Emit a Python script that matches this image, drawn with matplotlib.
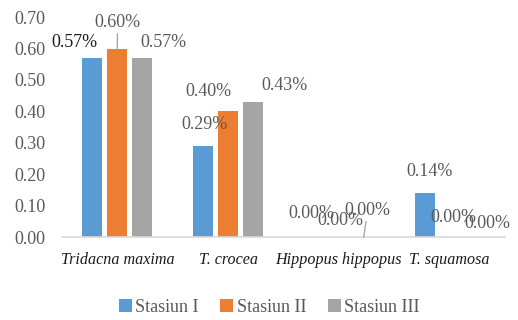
import numpy as np
import matplotlib
matplotlib.use("Agg")
import matplotlib.pyplot as plt
from matplotlib.patches import Patch

plt.rcParams['font.family'] = ['Liberation Serif', 'DejaVu Serif']

species = ["Tridacna maxima", "T. crocea", "Hippopus hippopus", "T. squamosa"]
stations = ["Stasiun I", "Stasiun II", "Stasiun III"]
stasiun_1 = [0.57, 0.29, 0.00, 0.14]
stasiun_2 = [0.60, 0.40, 0.00, 0.00]
stasiun_3 = [0.57, 0.43, 0.00, 0.00]
colors = ["#5b9bd5", "#ed7d31", "#a5a5a5"]
yticks = [0.0, 0.1, 0.2, 0.3, 0.4, 0.5, 0.6, 0.7]

# label offsets (pixels) from the top of each bar, Excel-style hand placement
label_offsets = [
    [(-18, 15), (1, 21), (-3, 24), (5, 22)],
    [(0, 26), (-20, 20), (2, 17), (4, 20)],
    [(21, 15), (31, 16), (4, 27), (13, 14)],
]
leader = {(1, 0), (2, 2)}

series = [stasiun_1, stasiun_2, stasiun_3]
text_gray = "#595959"

fig = plt.figure(figsize=(5.18, 3.2), dpi=100)
ax = fig.add_axes([0.1197, 0.259, 0.855, 0.6875])

x = np.arange(len(species))
width = 0.18
step = 0.225
for s, vals in enumerate(series):
    pos = x + (s - 1) * step
    ax.bar(pos, vals, width=width, color=colors[s], zorder=2)
    for i, v in enumerate(vals):
        dx, dy = label_offsets[s][i]
        props = None
        if (s, i) in leader:
            props = dict(arrowstyle='-', color='#a6a6a6', lw=1,
                         shrinkA=0, shrinkB=0)
        col = "#1a1a1a" if (s, i) == (0, 0) else text_gray
        ax.annotate(f"{v:.2f}%", xy=(pos[i], v), xytext=(dx, dy),
                    textcoords='offset pixels', ha='center', va='center',
                    fontsize=13, color=col, arrowprops=props, zorder=3)

ax.set_xlim(-0.5, len(species) - 0.5)
ax.set_ylim(0, 0.7)
ax.set_yticks(yticks)
ax.set_yticklabels([f"{t:.2f}" for t in yticks], fontsize=13, color=text_gray)
ax.set_xticks(x)
ax.set_xticklabels(species, fontsize=11.6, style='italic', color="#1a1a1a")
ax.tick_params(axis='both', length=0)
ax.tick_params(axis='y', pad=12)
ax.tick_params(axis='x', pad=11)
for side in ["top", "right", "left"]:
    ax.spines[side].set_visible(False)
ax.spines["bottom"].set_color("#d9d9d9")
ax.spines["bottom"].set_linewidth(1.2)

handles = [Patch(facecolor=c, label=n) for c, n in zip(colors, stations)]
leg = fig.legend(handles=handles, loc='center', bbox_to_anchor=(0.52, 0.04),
                 ncol=3, frameon=False, fontsize=13, handlelength=0.7,
                 handleheight=0.7, handletextpad=0.2, columnspacing=1.2)
for t in leg.get_texts():
    t.set_color(text_gray)

fig.savefig("out.png", dpi=100)
